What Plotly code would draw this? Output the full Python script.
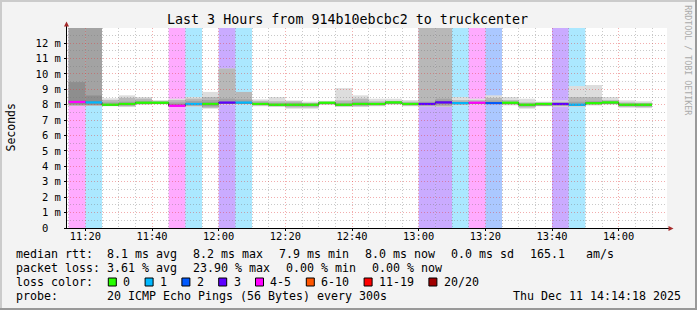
import plotly.graph_objects as go
import pandas as pd

# ---------------- data ----------------
interval_start = pd.date_range("2025-12-11 11:15:00", periods=35, freq="5min")
interval_len = pd.Timedelta(minutes=5)

# median RTT per 5-minute interval (ms)
median_ms = [8.18, 8.15, 8.00, 8.05, 8.13, 8.13, 7.93, 8.05, 8.05, 8.14,
             8.14, 8.05, 8.00, 8.00, 8.00, 8.13, 8.00, 8.05, 8.05, 8.15,
             8.05, 8.05, 8.15, 8.10, 8.13, 8.10, 8.13, 8.00, 8.05, 8.05,
             8.00, 8.10, 8.15, 8.00, 8.00]
# lost pings out of 20 per interval
loss_pings = [5, 1, 0, 0, 0, 0, 4, 1, 0, 3,
              1, 0, 0, 0, 0, 0, 0, 0, 0, 0,
              0, 3, 3, 1, 4, 2, 0, 0, 0, 3,
              1, 0, 0, 0, 0]
# smoke ranges (ms), outermost to innermost; 13.5 = beyond top of graph
smoke1_lo = [7.92, 7.92, 7.90, 7.85, 8.00, 8.02, 7.90, 7.85, 7.74, 8.00,
             8.00, 7.90, 7.85, 7.74, 7.74, 7.98, 7.85, 7.85, 7.90, 8.00,
             7.90, 7.88, 7.85, 7.95, 8.00, 8.00, 7.96, 7.74, 7.90, 7.85,
             7.85, 7.95, 8.00, 7.80, 7.78]
smoke1_hi = [13.5, 13.5, 8.42, 8.61, 8.50, 8.30, 8.39, 8.50, 8.83, 10.35,
             8.83, 8.35, 8.50, 8.28, 8.20, 8.25, 9.08, 8.61, 8.39, 8.39,
             8.30, 13.5, 13.5, 8.50, 8.39, 8.61, 8.50, 8.39, 8.20, 8.28,
             9.21, 9.28, 8.50, 8.28, 8.22]
smoke2_lo = [7.94, 7.94, 7.93, 7.90, 8.03, 8.05, 7.92, 7.90, 7.80, 8.04,
             8.04, 7.95, 7.90, 7.82, 7.82, 8.02, 7.90, 7.90, 7.94, 8.04,
             7.94, 7.90, 7.88, 8.00, 8.04, 8.04, 8.00, 7.82, 7.94, 7.90,
             7.90, 8.00, 8.04, 7.86, 7.84]
smoke2_hi = [13.5, 13.5, 8.30, 8.45, 8.40, 8.24, 8.30, 8.40, 8.50, 10.35,
             8.83, 8.25, 8.22, 8.22, 8.12, 8.20, 8.28, 8.40, 8.22, 8.25,
             8.20, 13.5, 13.5, 8.30, 8.30, 8.45, 8.30, 8.15, 8.15, 8.20,
             8.50, 8.50, 8.30, 8.15, 8.12]
smoke3_lo = [7.96, 7.96, 7.95, 7.95, 8.06, 8.08, 7.95, 7.95, 7.88, 8.08,
             8.08, 7.98, 7.94, 7.90, 7.90, 8.06, 7.94, 7.95, 7.98, 8.08,
             7.98, 7.95, 7.95, 8.04, 8.08, 8.08, 8.06, 7.90, 7.98, 7.95,
             7.94, 8.04, 8.08, 7.92, 7.90]
smoke3_hi = [13.5, 13.5, 8.15, 8.20, 8.25, 8.20, 8.15, 8.25, 8.30, 8.40,
             8.35, 8.15, 8.10, 8.12, 8.08, 8.18, 8.12, 8.20, 8.12, 8.20,
             8.12, 8.20, 8.39, 8.20, 8.20, 8.28, 8.20, 8.08, 8.10, 8.12,
             8.20, 8.25, 8.20, 8.08, 8.08]
smoke4_lo = [8.02, 8.00, 7.97, 8.00, 8.10, 8.10, 7.98, 8.00, 7.95, 8.10,
             8.10, 8.00, 7.97, 7.96, 7.96, 8.10, 7.97, 8.00, 8.00, 8.10,
             8.00, 8.00, 8.05, 8.06, 8.10, 8.08, 8.10, 7.96, 8.00, 8.00,
             7.97, 8.07, 8.10, 7.96, 7.96]
smoke4_hi = [9.47, 8.60, 8.05, 8.10, 8.18, 8.16, 8.05, 8.12, 8.15, 8.20,
             8.20, 8.10, 8.05, 8.05, 8.04, 8.16, 8.05, 8.10, 8.08, 8.18,
             8.08, 8.10, 8.25, 8.14, 8.17, 8.15, 8.16, 8.04, 8.08, 8.08,
             8.05, 8.14, 8.18, 8.04, 8.04]

# loss classes: label, min lost, max lost, colour
loss_classes = [("0", 0, 0, "#26ff00"), ("1", 1, 1, "#00b8ff"),
                ("2", 2, 2, "#0059ff"), ("3", 3, 3, "#5e00ff"),
                ("4-5", 4, 5, "#ff00ff"), ("6-10", 6, 10, "#ff5500"),
                ("11-19", 11, 19, "#ff0000"), ("20/20", 20, 20, "#a10000")]

title_text = "Last 3 Hours from 914b10ebcbc2 to truckcenter"
rtt_stats = ["8.1 ms avg", "8.2 ms max", "7.9 ms min", "8.0 ms now", "0.0 ms sd", "165.1   am/s"]
loss_stats = ["3.61 % avg", "23.90 % max", "0.00 % min", "0.00 % now"]
probe_text = "20 ICMP Echo Pings (56 Bytes) every 300s"
stamp_text = "Thu Dec 11 14:14:18 2025"

x_range = ["2025-12-11 11:14:30", "2025-12-11 14:14:30"]
y_top = 12.98
x_major = pd.date_range("2025-12-11 11:20", "2025-12-11 14:00", freq="20min")
x_minor = [t for t in pd.date_range("2025-12-11 11:15", "2025-12-11 14:10", freq="5min") if t not in x_major]
y_major = list(range(0, 13))
y_minor = [v + 0.5 for v in range(0, 13)]

# ---------------- geometry / style ----------------
W, H = 697, 310
PL, PT, PW, PH = 67, 28, 600, 200
FONT = "DejaVu Sans Mono"
LEG = 11.63
ADV = 7.0


def ax(x):
    return (x - PL) / PW


def ay(y):
    return (PT + PH - y) / PH


def rgba(hexc, a):
    h = hexc.lstrip("#")
    return "rgba(%d,%d,%d,%.2f)" % (int(h[0:2], 16), int(h[2:4], 16), int(h[4:6], 16), a)


centers = interval_start + interval_len / 2
ends = interval_start + interval_len
bar_w = interval_len.total_seconds() * 1000

fig = go.Figure()

# loss background bands
for lab, lo, hi, col in loss_classes[1:]:
    idx = [i for i, n in enumerate(loss_pings) if lo <= n <= hi]
    if idx:
        fig.add_bar(x=centers[idx], y=[y_top] * len(idx), base=0, width=bar_w,
                    marker=dict(color=rgba(col, 0.33), line=dict(width=0)), hoverinfo="skip")

# smoke
smoke_layers = [(smoke1_lo, smoke1_hi, "#dddddd"), (smoke2_lo, smoke2_hi, "#b8b8b8"),
                (smoke3_lo, smoke3_hi, "#a3a3a3"), (smoke4_lo, smoke4_hi, "#8e8e8e")]
for lo_a, hi_a, col in smoke_layers:
    fig.add_bar(x=centers, base=lo_a, y=[h - l for l, h in zip(lo_a, hi_a)], width=bar_w,
                marker=dict(color=col, line=dict(width=0)), hoverinfo="skip")

# median step line (dark) and coloured median segments
fig.add_scatter(x=list(interval_start) + [ends[-1]], y=median_ms + [median_ms[-1]],
                mode="lines", line=dict(color="#202020", width=1, shape="hv"), hoverinfo="skip")
for lab, lo, hi, col in loss_classes:
    xs, ys = [], []
    for i, n in enumerate(loss_pings):
        if lo <= n <= hi:
            xs += [interval_start[i], ends[i], None]
            ys += [median_ms[i], median_ms[i], None]
    if xs:
        fig.add_scatter(x=xs, y=ys, mode="lines", line=dict(color=col, width=2.2),
                        hoverinfo="skip")

# empty trace to create the grid subplot drawn above the data
fig.add_scatter(x=[], y=[], xaxis="x2", yaxis="y2", hoverinfo="skip")

GRID_MINOR = "rgba(120,120,120,0.4)"
GRID_MAJOR = "rgba(225,60,60,0.42)"
DASH = "1px,2px"

fig.update_layout(
    width=W, height=H, autosize=False,
    margin=dict(l=PL, r=W - PL - PW, t=PT, b=H - PT - PH, pad=0),
    paper_bgcolor="#f3f3f3", plot_bgcolor="rgba(0,0,0,0)",
    barmode="overlay", showlegend=False,
    font=dict(family=FONT, color="#000000"),
    xaxis=dict(type="date", range=x_range, tickmode="array", tickvals=list(x_major),
               ticktext=[t.strftime("%H:%M") for t in x_major],
               ticks="outside", ticklen=2, tickcolor="#000", showline=True, linecolor="#000",
               linewidth=1, showgrid=False, zeroline=False, fixedrange=True,
               ticklabelstandoff=-3,
               tickfont=dict(family=FONT, size=10.35, color="#000")),
    yaxis=dict(range=[0, y_top], tickmode="array", tickvals=y_major,
               ticktext=["0\u00a0\u00a0"] + ["%d\u00a0m" % v for v in y_major[1:]],
               ticks="outside", ticklen=2, tickcolor="#000", showline=True, linecolor="#000",
               linewidth=1, showgrid=False, zeroline=False, fixedrange=True,
               ticklabelstandoff=1,
               tickfont=dict(family=FONT, size=10.5, color="#000")),
    xaxis2=dict(type="date", range=x_range, anchor="y2", domain=[0, 1],
                tickmode="array", tickvals=list(x_major), showticklabels=False, ticks="",
                showline=False, zeroline=False, showgrid=True, gridcolor=GRID_MAJOR,
                griddash=DASH, gridwidth=1, fixedrange=True,
                minor=dict(tickmode="array", tickvals=x_minor, showgrid=True,
                           gridcolor=GRID_MINOR, griddash=DASH, gridwidth=1, ticks="")),
    yaxis2=dict(range=[0, y_top], anchor="x2", domain=[0, 1],
                tickmode="array", tickvals=y_major[1:], showticklabels=False, ticks="",
                showline=False, zeroline=False, showgrid=True, gridcolor=GRID_MAJOR,
                griddash=DASH, gridwidth=1, fixedrange=True,
                minor=dict(tickmode="array", tickvals=y_minor, showgrid=True,
                           gridcolor=GRID_MINOR, griddash=DASH, gridwidth=1, ticks="")),
)


def text(x, y, s, size=LEG, xanchor="left", color="#000000", angle=0):
    fig.add_annotation(xref="paper", yref="paper", x=ax(x), y=ay(y), text=s.replace(" ", "\u00a0"),
                       showarrow=False, xanchor=xanchor, yanchor="middle", borderpad=0,
                       borderwidth=0, textangle=angle,
                       font=dict(family=FONT, size=size, color=color))


shapes = []

# white canvas below everything
shapes.append(dict(type="rect", xref="paper", yref="paper", x0=0, x1=1, y0=0, y1=1,
                   fillcolor="#ffffff", line=dict(width=0), layer="below"))


def rect(x0, y0, x1, y1, fill, line=None):
    shapes.append(dict(type="rect", xref="paper", yref="paper", x0=ax(x0), x1=ax(x1),
                       y0=ay(y0), y1=ay(y1), fillcolor=fill, layer="above",
                       line=dict(width=1 if line else 0, color=line or fill)))


# frame shading
rect(0, 0, W, 2, "#cbcbcb")
rect(0, 0, 2, H, "#cbcbcb")
rect(0, H - 2, W, H, "#999999")
rect(W - 2, 0, W, H, "#999999")

# axis extensions and arrows
shapes.append(dict(type="line", xref="paper", yref="paper", x0=ax(66.5), x1=ax(66.5),
                   y0=ay(28), y1=ay(24), line=dict(color="#000", width=1)))
shapes.append(dict(type="line", xref="paper", yref="paper", x0=ax(667), x1=ax(670),
                   y0=ay(228.5), y1=ay(228.5), line=dict(color="#000", width=1)))
ARW = "#a52a2a"
shapes.append(dict(type="path", xref="paper", yref="paper", fillcolor=ARW, line=dict(width=0),
                   path="M %f,%f L %f,%f L %f,%f Z" % (ax(66.5), ay(21.5), ax(64), ay(26.5), ax(69), ay(26.5))))
shapes.append(dict(type="path", xref="paper", yref="paper", fillcolor=ARW, line=dict(width=0),
                   path="M %f,%f L %f,%f L %f,%f Z" % (ax(673.5), ay(228.5), ax(668.5), ay(226), ax(668.5), ay(231))))

# title, axis title, watermark
text(347.7, 19.7, title_text, size=13.33, xanchor="center")
text(11.2, 127.3, "Seconds", size=11.5, xanchor="center", angle=-90)
text(687.7, 60, "RRDTOOL / TOBI OETIKER", size=8.3, xanchor="center", color="#aaaaaa", angle=90)

# legend lines
ROWS = [253.5, 267.5, 281.5, 295.5]
COL2 = 107.3
GAP = 16.0
text(16, ROWS[0], "median rtt:")
x = COL2
for s in rtt_stats:
    text(x, ROWS[0], s)
    x += ADV * len(s) + GAP
text(16, ROWS[1], "packet loss:")
x = COL2
for s in loss_stats:
    text(x, ROWS[1], s)
    x += ADV * len(s) + GAP
text(16, ROWS[2], "loss color:")
x = 108.3
for lab, lo, hi, col in loss_classes:
    rect(x, 278, x + 8, 286, col, "#000000")
    text(x + 14.8, ROWS[2], lab)
    x += 14.8 + ADV * len(lab) + 15.0
text(16, ROWS[3], "probe:")
text(COL2, ROWS[3], probe_text)
text(680.5, ROWS[3], stamp_text, xanchor="right")

fig.update_layout(shapes=shapes)
fig.write_html("out.html")
